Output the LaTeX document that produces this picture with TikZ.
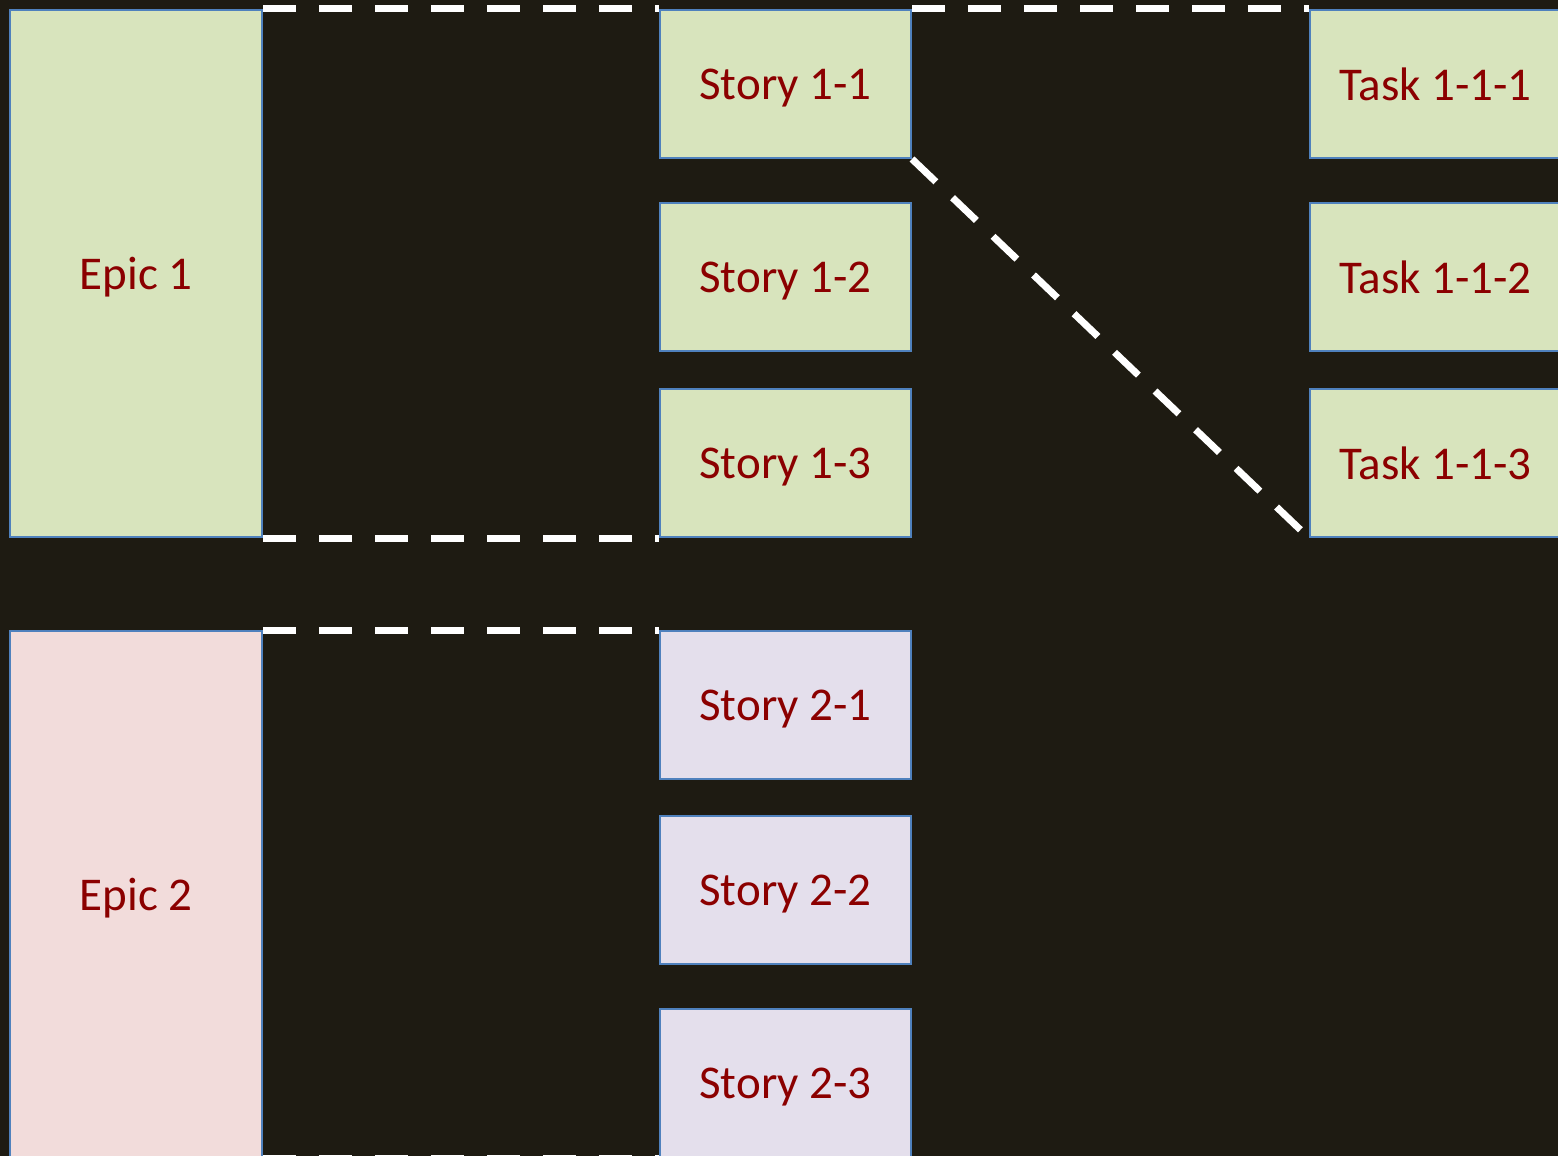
\documentclass[tikz,border=0pt]{standalone}
\usepackage{fontspec}
\setmainfont{Carlito}
\definecolor{bg}{HTML}{1E1B12}
\definecolor{greenbox}{HTML}{D8E4BD}
\definecolor{pinkbox}{HTML}{F2DCDB}
\definecolor{lavbox}{HTML}{E4DFEC}
\definecolor{edge}{HTML}{4F81BD}
\definecolor{txt}{HTML}{8B0000}
\begin{document}
\begin{tikzpicture}[x=1pt,y=-1pt,
  box/.style={draw=edge,line width=2pt,anchor=north west,inner sep=0pt,
    text=txt,font=\fontsize{47}{50}\selectfont,text depth=0pt},
  epicbox/.style={box,minimum width=252pt,minimum height=527pt},
  storybox/.style={box,minimum width=251pt,minimum height=148pt},
  link/.style={draw=white,line width=7pt,dash pattern=on 33pt off 23pt}]
\fill[bg] (0,0) rectangle (1558,1156);
\useasboundingbox (0,0) rectangle (1558,1156);
\node[epicbox,fill=greenbox] (e1) at (9,9) {Epic 1};
\node[storybox,fill=greenbox] (s11) at (659,9) {Story 1-1};
\node[storybox,fill=greenbox] (s12) at (659,202) {Story 1-2};
\node[storybox,fill=greenbox] (s13) at (659,388) {Story 1-3};
\node[storybox,fill=greenbox] (t111) at (1309,9) {Task 1-1-1};
\node[storybox,fill=greenbox] (t112) at (1309,202) {Task 1-1-2};
\node[storybox,fill=greenbox] (t113) at (1309,388) {Task 1-1-3};
\node[epicbox,fill=pinkbox,minimum height=526pt] (e2) at (9,630) {Epic 2};
\node[storybox,fill=lavbox] (s21) at (659,630) {Story 2-1};
\node[storybox,fill=lavbox] (s22) at (659,815) {Story 2-2};
\node[storybox,fill=lavbox] (s23) at (659,1008) {Story 2-3};
\draw[link] (e1.north east) -- (s11.north west);
\draw[link] (e1.south east) -- (s13.south west);
\draw[link] (s11.north east) -- (t111.north west);
\draw[link] (s11.south east) -- (t113.south west);
\draw[link] (e2.north east) -- (s21.north west);
\draw[link] (e2.south east) -- (s23.south west);
\end{tikzpicture}
\end{document}
